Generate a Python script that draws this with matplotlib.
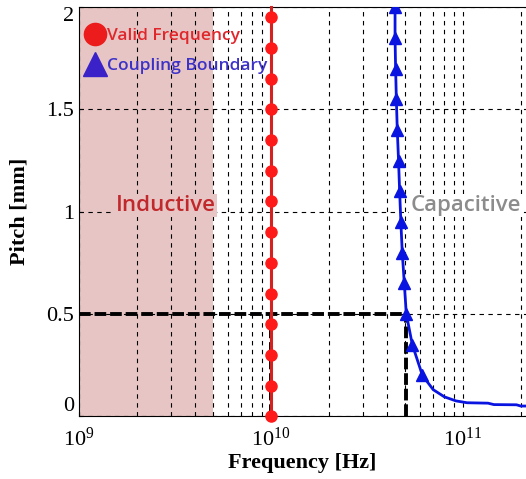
import numpy as np
import matplotlib.pyplot as plt
from matplotlib.lines import Line2D

plt.rcParams['mathtext.fontset'] = 'custom'
plt.rcParams['mathtext.rm'] = 'Liberation Serif'

# valid frequency line (constant 10 GHz)
valid_freq = [1e10] * 15
valid_pitch = [0.0, 0.15, 0.3, 0.45, 0.6, 0.75, 0.9, 1.05, 1.2, 1.35, 1.5, 1.65, 1.8, 1.95, 2.0]

# coupling boundary
cb_freq = [4.43e10, 4.43e10, 4.46e10, 4.5e10, 4.55e10, 4.62e10, 4.68e10, 4.75e10, 4.83e10,
           4.95e10, 5.07e10, 5.45e10, 6.15e10, 7.0e10, 8.0e10, 9.2e10, 1.05e11, 1.35e11,
           1.45e11, 1.9e11, 2.0e11, 2.4e11]
cb_pitch = [2.0, 1.85, 1.7, 1.55, 1.4, 1.25, 1.1, 0.95, 0.8, 0.65, 0.5, 0.35, 0.2,
            0.13, 0.095, 0.075, 0.066, 0.064, 0.057, 0.056, 0.05, 0.05]

inductive_end = 5e9
marker_freq = [1e10, 5.07e10]
marker_pitch = 0.5

fig = plt.figure(figsize=(5.26, 4.79), dpi=100)
ax = fig.add_axes([0.150, 0.131, 0.85, 0.854])

ax.axvspan(1e9, inductive_end, color='#e8c5c5', zorder=0, lw=0)

ax.set_xscale('log')
ax.set_xlim(1e9, 2.13e11)
ax.set_ylim(0, 2)

# grid
ax.grid(True, which='both', axis='x', color='black', linestyle=(0, (4, 4)), lw=0.8)
ax.grid(True, which='major', axis='y', color='black', linestyle=(0, (4, 4)), lw=0.8)
ax.set_axisbelow(True)

# black dashed guide lines
ax.plot([1e9, marker_freq[1]], [marker_pitch, marker_pitch], color='black', lw=2.8,
        linestyle=(0, (3, 1)), zorder=3)
for f in marker_freq:
    ax.plot([f, f], [0, marker_pitch], color='black', lw=2.8, linestyle=(0, (3, 1)), zorder=3)

ax.plot(valid_freq, valid_pitch, color='#d42222', lw=2.2, marker='o', markersize=8,
        markerfacecolor='#ff1a1a', markeredgecolor='#ff1a1a', markevery=list(range(14)),
        zorder=4, clip_on=False)
ax.plot(cb_freq, cb_pitch, color='#0a14e0', lw=2, marker='^', markersize=8,
        markevery=list(range(13)), zorder=4)

ax.text(1.55e9, 1.03, 'Inductive', color='#c0282c', fontsize=16, fontfamily='Open Sans',
        fontweight='semibold', va='center', ha='left',
        bbox=dict(facecolor='#e8c5c5', edgecolor='none', pad=1), zorder=5)
ax.text(5.35e10, 1.03, 'Capacitive', color='#8c8c8c', fontsize=16, fontfamily='Open Sans',
        fontweight='semibold', va='center', ha='left',
        bbox=dict(facecolor='white', edgecolor='none', pad=1), zorder=5)

handles = [Line2D([], [], ls='none', marker='o', markersize=16, color='#ec1c1c'),
           Line2D([], [], ls='none', marker='^', markersize=17, color='#3a22c8')]
leg = ax.legend(handles, ['Valid Frequency', 'Coupling Boundary'], loc='upper left',
                bbox_to_anchor=(0.0, 0.971), frameon=False, handlelength=0.8,
                handletextpad=0.3, labelspacing=0.8, borderaxespad=0.1,
                prop={'family': 'Open Sans', 'size': 12.5, 'weight': 'semibold'})
leg.get_texts()[0].set_color('#e0282c')
leg.get_texts()[1].set_color('#3c32c8')

ax.set_yticks([0, 0.5, 1, 1.5, 2])
ax.set_yticklabels(['0', '0.5', '1', '1.5', '2'])
ax.tick_params(axis='both', which='both', direction='in', labelsize=16, length=3)
ax.tick_params(axis='x', which='minor', length=0)
ax.tick_params(axis='x', pad=8)
for lab in ax.get_xticklabels() + ax.get_yticklabels():
    lab.set_fontfamily('Liberation Serif')
ylabs = ax.get_yticklabels()
ylabs[0].set_va('bottom')
ylabs[-1].set_va('top')

ax.spines['right'].set_visible(False)

ax.set_xlabel('Frequency [Hz]', fontfamily='Liberation Serif', fontweight='bold', fontsize=16, labelpad=2)
ax.set_ylabel('Pitch [mm]', fontfamily='Liberation Serif', fontweight='bold', fontsize=16, labelpad=12)

fig.savefig('out.png', dpi=100)
